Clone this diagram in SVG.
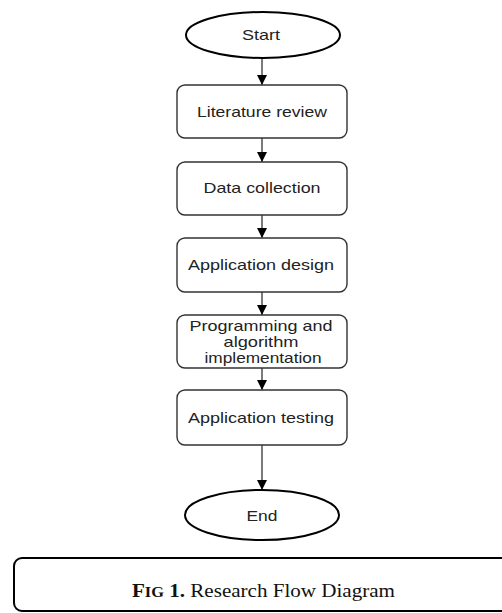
<svg xmlns="http://www.w3.org/2000/svg" width="502" height="613" viewBox="0 0 502 613">
<defs>
<style>
.box{fill:#fff;stroke:#333;stroke-width:1.4}
.term{fill:#fff;stroke:#000;stroke-width:2}
.lbl{font-family:"Liberation Sans",Arial,sans-serif;font-size:15px;fill:#222;text-anchor:middle}
.edge{stroke:#333;stroke-width:1.3;fill:none}
.cap{font-family:"Liberation Serif","Times New Roman",serif;font-size:18px;fill:#111}
</style>
<marker id="ah" viewBox="0 0 10 10" refX="10" refY="5" markerWidth="10" markerHeight="10" markerUnits="userSpaceOnUse" orient="auto">
<path d="M0,0 L10,5 L0,10 Z" fill="#000"/>
</marker>
</defs>
<rect width="502" height="613" fill="#fff"/>
<g id="connectors">
<line class="edge" x1="262" y1="58" x2="262" y2="85" marker-end="url(#ah)"/>
<line class="edge" x1="262" y1="138" x2="262" y2="162" marker-end="url(#ah)"/>
<line class="edge" x1="262" y1="215" x2="262" y2="238" marker-end="url(#ah)"/>
<line class="edge" x1="262" y1="292" x2="262" y2="315" marker-end="url(#ah)"/>
<line class="edge" x1="262" y1="368" x2="262" y2="390" marker-end="url(#ah)"/>
<line class="edge" x1="262" y1="445" x2="262" y2="490" marker-end="url(#ah)"/>
</g>
<g id="start">
<ellipse class="term" cx="263" cy="35" rx="77" ry="23"/>
<text class="lbl" x="261" y="40" textLength="38" lengthAdjust="spacingAndGlyphs">Start</text>
</g>
<g id="literature">
<rect class="box" x="177" y="85" width="170" height="53" rx="8"/>
<text class="lbl" x="262" y="117" textLength="130" lengthAdjust="spacingAndGlyphs">Literature review</text>
</g>
<g id="data">
<rect class="box" x="177" y="162" width="170" height="53" rx="8"/>
<text class="lbl" x="262" y="193" textLength="117" lengthAdjust="spacingAndGlyphs">Data collection</text>
</g>
<g id="design">
<rect class="box" x="177" y="238" width="170" height="54" rx="8"/>
<text class="lbl" x="261" y="270" textLength="146" lengthAdjust="spacingAndGlyphs">Application design</text>
</g>
<g id="programming">
<rect class="box" x="177" y="315" width="170" height="53" rx="8"/>
<text class="lbl" x="261" y="331" textLength="143" lengthAdjust="spacingAndGlyphs">Programming and</text>
<text class="lbl" x="261" y="347" textLength="75" lengthAdjust="spacingAndGlyphs">algorithm</text>
<text class="lbl" x="263" y="363" textLength="117" lengthAdjust="spacingAndGlyphs">implementation</text>
</g>
<g id="testing">
<rect class="box" x="177" y="390" width="170" height="55" rx="8"/>
<text class="lbl" x="261" y="423" textLength="146" lengthAdjust="spacingAndGlyphs">Application testing</text>
</g>
<g id="end">
<ellipse class="term" cx="262" cy="515" rx="77" ry="25"/>
<text class="lbl" x="262" y="521" textLength="31" lengthAdjust="spacingAndGlyphs">End</text>
</g>
<g id="caption">
<rect x="14" y="558" width="500" height="53" rx="8" fill="#fff" stroke="#000" stroke-width="2"/>
<text class="cap" x="132" y="597" textLength="263" lengthAdjust="spacingAndGlyphs"><tspan font-weight="bold">F</tspan><tspan font-weight="bold" font-size="14px">IG</tspan><tspan font-weight="bold"> 1.</tspan> Research Flow Diagram</text>
</g>
</svg>
